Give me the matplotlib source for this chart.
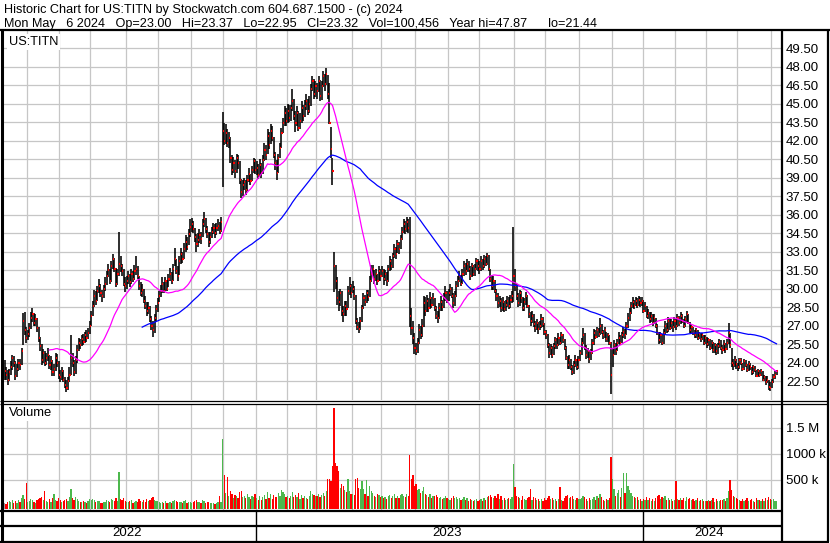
import matplotlib
matplotlib.use('Agg')
import matplotlib.pyplot as plt
import numpy as np
import pandas as pd

plt.rcParams['font.family'] = ['Liberation Sans', 'DejaVu Sans']

# ---------------- data (daily, 2022-05-10 .. 2024-05-06) ----------------
close = [
    23.3, 23.0, 22.6, 23.2, 23.6, 24.4, 24.0, 22.9, 23.5, 24.0, 23.8, 24.9, 27.4, 26.6, 26.0,  # May 22
    26.3, 26.8, 27.6, 27.9, 27.2, 27.5, 26.8, 26.0, 25.3, 24.2, 24.8, 24.0, 24.4, 24.6, 23.8, 24.1, 23.2, 23.5, 24.4, 24.0, 23.0,  # Jun
    22.8, 23.3, 22.6, 22.2, 21.9, 22.5, 23.0, 24.4, 24.0, 23.2, 24.2, 25.0, 25.6, 25.4, 25.9, 25.7, 26.2, 26.0, 26.4, 27.0,  # Jul
    27.8, 28.6, 29.4, 29.0, 29.8, 30.2, 29.6, 29.4, 30.0, 30.4, 31.0, 31.5, 30.6, 31.8, 32.4, 31.6, 30.4, 31.2, 32.0, 31.8, 31.4, 30.4, 30.2,  # Aug
    30.6, 31.0, 30.5, 31.2, 30.8, 31.4, 31.6, 31.0, 30.2, 29.6, 29.9, 29.0, 28.6, 28.2, 28.4, 27.5, 27.0, 26.6, 27.6, 28.3, 28.8,  # Sep
    29.4, 29.8, 30.4, 29.8, 30.6, 30.0, 30.8, 31.2, 30.6, 31.6, 32.4, 31.4, 31.0, 32.2, 32.8, 32.4, 33.2, 33.8, 33.4, 34.4, 35.0,  # Oct
    35.2, 34.8, 34.2, 33.6, 33.9, 34.3, 34.0, 35.2, 35.6, 34.8, 34.4, 33.8, 34.2, 34.6, 34.9, 34.5, 34.9, 35.1, 34.7, 35.4, 42.8,  # Nov
    42.0, 42.6, 41.8, 42.2, 40.6, 39.6, 40.2, 39.5, 40.6, 40.2, 38.8, 37.8, 38.4, 38.6, 38.0, 38.8, 39.3, 38.7, 39.6, 40.3, 39.6,  # Dec
    39.8, 39.2, 40.0, 39.4, 40.4, 41.2, 40.8, 42.4, 41.6, 42.8, 42.2, 40.8, 40.2, 39.4, 40.6, 41.4, 42.6, 43.4, 44.2, 43.6,  # Jan 23
    44.4, 43.8, 44.6, 45.2, 44.0, 43.4, 44.2, 43.0, 43.6, 44.6, 44.0, 44.8, 45.2, 44.4, 45.0, 46.2, 46.8, 45.8, 46.4,  # Feb
    46.0, 46.8, 45.6, 46.4, 47.2, 46.6, 47.4, 45.8, 43.4, 41.3, 39.5, 31.8, 30.6, 29.2, 28.9, 29.6, 28.2, 27.9, 28.6, 28.3, 29.8, 30.2, 29.6,  # Mar
    30.0, 29.4, 27.4, 26.9, 26.7, 27.4, 28.4, 29.2, 28.9, 29.6, 29.3, 30.6, 31.2, 31.6, 30.8, 31.2, 30.6, 31.4, 31.0,  # Apr
    31.4, 30.8, 31.2, 30.6, 31.6, 32.2, 31.8, 32.6, 33.2, 32.8, 33.6, 33.2, 34.0, 34.6, 35.2, 34.8, 35.4, 34.9, 27.8, 26.8, 26.0, 25.2,  # May
    24.9, 25.6, 26.6, 26.2, 27.0, 28.8, 28.2, 29.0, 28.4, 29.2, 28.7, 29.2, 28.4, 27.8, 27.6, 28.4, 28.9, 28.5, 29.2, 29.6, 29.0,  # Jun
    29.6, 30.0, 29.4, 28.8, 29.4, 30.2, 30.6, 31.0, 30.4, 31.2, 31.8, 31.4, 32.0, 31.6, 31.0, 31.8, 31.2, 31.6, 32.2, 31.8,  # Jul
    31.6, 32.2, 31.8, 32.4, 32.0, 32.6, 31.6, 30.8, 30.2, 30.6, 29.8, 29.4, 28.8, 29.0, 28.4, 28.9, 28.3, 28.7, 29.0, 28.6, 29.1, 29.4, 31.0,  # Aug
    30.2, 29.4, 28.8, 29.6, 29.2, 28.4, 28.9, 29.4, 28.6, 27.9, 27.4, 27.8, 27.1, 26.8, 27.2, 26.7, 27.0, 27.5, 27.1, 26.5,  # Sep
    26.2, 25.4, 24.8, 25.2, 24.6, 25.3, 25.8, 25.4, 26.0, 25.6, 26.2, 25.8, 25.2, 24.4, 23.8, 24.2, 23.6, 23.2, 23.8, 24.2, 23.6, 24.2,  # Oct
    24.8, 25.6, 26.2, 25.2, 24.6, 24.9, 24.3, 24.8, 25.6, 26.4, 26.1, 26.6, 26.3, 27.0, 26.5, 26.2, 26.6, 25.9, 26.2, 25.6, 23.0,  # Nov
    24.6, 25.4, 24.9, 25.6, 26.0, 25.6, 26.2, 26.5, 26.2, 27.0, 27.6, 28.0, 28.6, 28.9, 28.6, 29.0, 28.7, 29.1, 28.8, 29.0,  # Dec
    28.2, 28.6, 27.8, 28.0, 27.5, 27.8, 27.2, 27.6, 27.0, 26.4, 25.8, 26.2, 25.6, 26.4, 27.0, 26.6, 27.4, 26.8, 27.2, 26.9, 27.4,  # Jan 24
    27.0, 27.6, 27.2, 27.8, 27.4, 27.0, 27.5, 27.9, 27.2, 26.6, 26.9, 26.4, 26.2, 26.6, 26.0, 26.3, 25.9, 26.2, 25.6, 26.0,  # Feb
    25.5, 25.8, 25.2, 25.6, 25.0, 25.4, 24.9, 25.3, 25.7, 25.2, 25.0, 25.5, 25.1, 25.6, 26.4, 25.4, 24.0, 23.8, 24.2, 23.9,  # Mar
    23.6, 24.2, 24.0, 23.5, 24.1, 23.8, 23.4, 23.9, 23.6, 23.2, 23.6, 23.4, 22.9, 23.3, 23.0, 23.3, 22.6, 22.8, 22.4, 22.6, 22.0, 21.9,  # Apr
    22.4, 22.8, 23.0, 23.32,  # May 24
]

high = [
    24.2, 23.6, 23.4, 23.5, 24.1, 24.6, 24.5, 24.1, 23.9, 24.3, 24.3, 25.2, 28.0, 28.1, 26.9,
    26.6, 27.2, 28.1, 28.4, 28.0, 27.9, 27.6, 26.9, 26.1, 25.5, 25.1, 24.9, 24.8, 25.2, 24.6, 24.5, 24.2, 23.9, 24.8, 24.7, 24.1,
    23.4, 23.6, 23.4, 22.8, 22.6, 22.8, 23.6, 26.2, 24.8, 24.2, 24.5, 25.4, 26.0, 25.9, 26.2, 26.3, 26.5, 26.6, 26.8, 27.4,
    28.2, 29.0, 29.9, 29.8, 30.2, 30.8, 30.4, 29.9, 30.3, 30.9, 31.4, 32.0, 31.6, 32.2, 32.8, 32.5, 31.7, 31.6, 34.6, 32.6, 32.0, 31.6, 30.9,
    31.0, 31.4, 31.2, 31.6, 31.4, 31.9, 32.6, 31.8, 31.0, 30.5, 30.4, 30.0, 29.4, 28.9, 28.9, 28.6, 27.8, 27.4, 27.9, 28.7, 29.2,
    29.8, 30.3, 30.9, 30.5, 30.9, 30.7, 31.2, 31.7, 31.3, 32.0, 33.3, 32.4, 31.8, 32.6, 33.3, 33.0, 33.7, 34.3, 34.2, 34.8, 35.6,
    35.7, 35.5, 34.9, 34.4, 34.5, 34.8, 34.6, 35.6, 36.2, 35.7, 35.1, 34.6, 34.6, 35.0, 35.3, 35.2, 35.3, 35.6, 35.4, 35.8, 44.3,
    43.4, 43.3, 42.9, 42.7, 42.3, 40.8, 40.7, 40.4, 40.9, 40.8, 40.3, 38.9, 38.8, 39.0, 38.8, 39.2, 39.8, 39.3, 39.9, 40.6, 40.5,
    40.3, 40.1, 40.5, 40.2, 40.8, 41.8, 41.6, 42.9, 42.7, 43.3, 43.2, 42.3, 41.1, 40.4, 40.9, 41.8, 43.0, 43.8, 44.8, 44.6,
    45.0, 44.9, 44.9, 46.2, 45.4, 44.4, 44.8, 44.4, 44.2, 45.2, 44.9, 45.3, 45.8, 45.4, 45.6, 46.6, 47.2, 47.0, 46.8,
    46.7, 47.2, 46.9, 46.8, 47.6, 47.4, 47.87, 47.3, 46.7, 43.1, 40.6, 33.0, 31.9, 30.9, 29.8, 30.0, 29.8, 28.6, 29.0, 29.0, 30.2, 30.9, 30.4,
    30.6, 30.2, 29.5, 27.6, 27.3, 27.7, 28.7, 29.6, 29.5, 29.9, 29.9, 31.0, 31.9, 31.9, 31.5, 31.6, 31.2, 31.8, 31.6,
    31.8, 31.6, 31.5, 31.3, 31.9, 32.6, 32.4, 32.9, 33.6, 33.4, 33.9, 33.8, 34.3, 35.0, 35.6, 35.5, 35.8, 35.6, 35.8, 28.4, 27.4, 26.4,
    25.6, 26.0, 27.1, 27.0, 27.5, 29.4, 29.3, 29.5, 29.2, 29.7, 29.3, 29.6, 29.2, 28.6, 28.2, 28.8, 29.4, 29.1, 29.6, 30.2, 29.8,
    30.0, 30.4, 30.1, 29.6, 29.8, 30.6, 31.0, 31.4, 31.1, 31.6, 32.2, 32.1, 32.4, 32.2, 31.8, 32.1, 31.9, 32.0, 32.5, 32.4,
    32.2, 32.6, 32.4, 32.7, 32.6, 32.9, 32.7, 31.6, 31.1, 31.0, 30.7, 30.0, 29.6, 29.4, 29.2, 29.3, 29.0, 29.1, 29.4, 29.3, 29.5, 29.8, 35.0,
    31.6, 30.4, 29.6, 29.9, 29.8, 29.3, 29.2, 29.7, 29.5, 28.7, 28.1, 28.2, 27.9, 27.4, 27.5, 27.3, 27.4, 27.9, 27.7, 27.2,
    26.6, 26.3, 25.6, 25.5, 25.3, 25.6, 26.1, 26.0, 26.4, 26.1, 26.5, 26.3, 25.9, 25.3, 24.5, 24.6, 24.3, 23.8, 24.1, 24.6, 24.3, 24.5,
    25.0, 26.0, 26.8, 26.4, 25.4, 25.2, 25.0, 25.1, 25.9, 26.7, 26.6, 26.9, 26.8, 27.6, 27.1, 26.6, 26.9, 26.5, 26.4, 26.2, 25.7,
    25.2, 25.8, 25.6, 25.9, 26.5, 26.2, 26.5, 26.9, 26.7, 27.3, 28.0, 28.4, 28.9, 29.3, 29.1, 29.3, 29.2, 29.4, 29.3, 29.3,
    29.1, 28.9, 28.6, 28.3, 28.1, 28.1, 27.9, 27.9, 27.6, 27.1, 26.5, 26.5, 26.3, 26.7, 27.4, 27.2, 27.7, 27.5, 27.5, 27.4, 27.7,
    27.5, 27.9, 27.8, 28.1, 27.9, 27.5, 27.8, 28.2, 27.9, 27.3, 27.1, 26.9, 26.6, 26.8, 26.6, 26.5, 26.4, 26.4, 26.2, 26.2,
    26.1, 26.0, 25.9, 25.8, 25.7, 25.6, 25.5, 25.6, 25.9, 25.8, 25.4, 25.8, 25.6, 25.9, 27.2, 26.4, 25.2, 24.3, 24.5, 24.3,
    24.0, 24.4, 24.4, 24.0, 24.3, 24.2, 23.9, 24.1, 24.0, 23.6, 23.8, 23.7, 23.4, 23.5, 23.4, 23.5, 23.3, 23.0, 22.9, 22.9, 22.6, 22.4,
    22.7, 23.1, 23.3, 23.37,
]

low = [
    22.6, 22.6, 22.2, 22.5, 23.0, 23.4, 23.6, 22.6, 22.8, 23.3, 23.4, 23.8, 25.4, 26.2, 25.6,
    25.8, 26.1, 26.7, 27.3, 27.0, 27.0, 26.5, 25.7, 24.9, 23.8, 24.0, 23.7, 23.8, 24.1, 23.5, 23.4, 22.9, 22.9, 23.3, 23.6, 22.7,
    22.4, 22.6, 22.4, 21.9, 21.6, 21.8, 22.4, 23.0, 23.6, 22.9, 23.1, 24.0, 24.9, 25.1, 25.3, 25.4, 25.6, 25.7, 25.9, 26.3,
    27.0, 27.8, 28.5, 28.7, 29.0, 29.6, 29.3, 28.9, 29.2, 29.8, 30.3, 30.9, 30.4, 30.5, 31.6, 31.3, 30.1, 30.3, 31.0, 31.3, 31.0, 30.2, 29.7,
    30.0, 30.4, 30.1, 30.4, 30.5, 30.7, 31.1, 30.8, 29.9, 29.4, 29.3, 28.8, 28.3, 27.8, 27.9, 27.3, 26.6, 26.1, 26.4, 27.4, 28.1,
    28.9, 29.3, 29.6, 29.6, 29.8, 29.8, 30.1, 30.6, 30.4, 30.6, 31.8, 31.2, 30.6, 31.1, 32.0, 32.1, 32.4, 33.0, 33.1, 33.5, 34.2,
    34.6, 34.5, 33.8, 33.0, 33.4, 33.7, 33.6, 34.2, 35.0, 34.5, 34.1, 33.4, 33.6, 34.1, 34.4, 34.1, 34.3, 34.7, 34.4, 34.6, 38.2,
    41.6, 41.7, 41.5, 41.4, 40.2, 39.2, 39.4, 39.0, 39.4, 39.7, 38.5, 37.3, 37.5, 38.0, 37.6, 37.9, 38.6, 38.4, 38.7, 39.4, 39.3,
    39.2, 38.9, 39.1, 39.0, 39.3, 40.3, 40.4, 40.9, 41.3, 41.7, 42.0, 40.6, 39.6, 38.8, 39.4, 40.6, 41.4, 42.6, 43.2, 43.2,
    43.4, 43.5, 43.6, 44.4, 43.7, 42.7, 43.2, 42.8, 42.9, 43.4, 43.6, 43.9, 44.5, 44.1, 44.2, 44.8, 46.0, 45.4, 45.5,
    45.4, 45.9, 45.2, 45.3, 46.3, 46.0, 46.5, 45.4, 43.3, 40.6, 38.4, 29.7, 30.0, 28.7, 28.2, 28.6, 27.8, 27.3, 27.8, 27.8, 28.4, 29.5, 29.2,
    29.6, 29.1, 27.1, 26.6, 26.4, 26.6, 27.3, 28.3, 28.6, 28.8, 29.0, 29.3, 30.5, 31.0, 30.4, 30.6, 30.3, 30.6, 30.6,
    30.9, 30.3, 30.6, 30.2, 30.5, 31.4, 31.5, 31.7, 32.5, 32.4, 32.9, 32.8, 33.2, 33.9, 34.5, 34.4, 34.6, 34.5, 26.9, 26.2, 25.5, 24.7,
    24.6, 24.8, 25.5, 25.9, 26.1, 26.9, 27.8, 28.1, 28.1, 28.3, 28.4, 28.6, 28.2, 27.5, 27.2, 27.5, 28.2, 28.2, 28.4, 29.0, 28.8,
    29.0, 29.4, 29.2, 28.4, 28.6, 29.3, 30.1, 30.5, 30.2, 30.4, 31.0, 31.1, 31.3, 31.3, 30.7, 30.9, 31.0, 31.0, 31.5, 31.4,
    31.2, 31.4, 31.5, 31.7, 31.8, 31.9, 31.4, 30.5, 29.9, 29.9, 29.6, 29.0, 28.4, 28.5, 28.1, 28.2, 28.1, 28.2, 28.5, 28.3, 28.4, 28.8, 28.9,
    29.8, 29.1, 28.5, 28.6, 28.8, 28.2, 28.2, 28.7, 28.4, 27.6, 27.0, 27.2, 26.9, 26.5, 26.6, 26.3, 26.6, 26.8, 26.9, 26.2,
    25.9, 25.2, 24.4, 24.6, 24.4, 24.6, 25.1, 25.1, 25.3, 25.4, 25.5, 25.6, 25.0, 24.2, 23.5, 23.5, 23.4, 23.0, 23.1, 23.6, 23.4, 23.5,
    24.1, 24.6, 25.5, 25.0, 24.3, 24.4, 24.0, 24.2, 24.7, 25.4, 25.9, 26.0, 26.1, 26.2, 26.3, 25.9, 26.0, 25.7, 25.7, 25.4, 21.44,
    23.6, 24.6, 24.6, 24.9, 25.5, 25.4, 25.6, 26.0, 25.9, 26.2, 26.8, 27.4, 27.9, 28.4, 28.3, 28.6, 28.4, 28.6, 28.5, 28.6,
    28.0, 28.1, 27.6, 27.5, 27.2, 27.3, 27.0, 27.1, 26.8, 26.2, 25.5, 25.6, 25.4, 25.5, 26.3, 26.4, 26.5, 26.6, 26.7, 26.5, 26.8,
    26.6, 26.9, 27.0, 27.1, 27.2, 26.8, 26.9, 27.3, 27.1, 26.4, 26.4, 26.2, 26.0, 26.0, 25.8, 25.9, 25.7, 25.8, 25.4, 25.5,
    25.2, 25.3, 25.0, 25.1, 24.8, 24.8, 24.6, 24.7, 25.2, 25.0, 24.7, 24.9, 24.8, 25.0, 25.5, 25.2, 23.6, 23.4, 23.6, 23.5,
    23.3, 23.5, 23.8, 23.3, 23.4, 23.6, 23.2, 23.3, 23.4, 23.0, 23.1, 23.2, 22.8, 22.9, 22.8, 22.9, 22.5, 22.5, 22.2, 22.3, 21.8, 21.7,
    21.9, 22.3, 22.7, 22.95,
]

volume_k = [
    60, 45, 80, 95, 70, 110, 55, 90, 65, 120, 85, 150, 210, 130, 440,
    70, 95, 140, 120, 85, 60, 110, 130, 150, 180, 110, 290, 90, 75, 140, 80, 160, 240, 110, 95, 150,
    120, 80, 95, 110, 130, 100, 170, 330, 150, 120, 180, 140, 90, 70, 85, 100, 80, 60, 95, 130,
    110, 140, 120, 70, 90, 100, 60, 55, 75, 85, 110, 95, 80, 130, 120, 90, 150, 100, 650, 140, 110, 160, 90,
    80, 70, 90, 110, 60, 85, 100, 75, 130, 95, 70, 120, 85, 140, 90, 110, 150, 180, 120, 100, 95,
    70, 60, 80, 55, 90, 50, 65, 85, 60, 100, 120, 90, 70, 80, 75, 55, 90, 110, 60, 85, 75,
    60, 70, 90, 110, 80, 75, 55, 120, 100, 65, 70, 85, 50, 60, 55, 45, 60, 70, 190, 75, 1290,
    600, 250, 560, 200, 290, 240, 160, 220, 190, 150, 260, 280, 170, 200, 150, 240, 180, 130, 200, 170, 230,
    150, 120, 200, 110, 180, 220, 130, 260, 150, 230, 140, 220, 180, 170, 250, 200, 300, 260, 240, 180,
    200, 160, 190, 260, 180, 220, 170, 250, 130, 210, 150, 190, 160, 140, 200, 280, 240, 210, 190,
    200, 230, 180, 210, 250, 190, 280, 520, 520, 480, 760, 1880, 830, 770, 670, 350, 420, 380, 300, 260, 520, 280, 240,
    230, 220, 520, 540, 350, 330, 480, 320, 230, 500, 200, 380, 290, 250, 200, 180, 240, 210, 170,
    200, 160, 180, 140, 190, 220, 150, 200, 230, 160, 190, 150, 210, 240, 200, 170, 230, 190, 980, 520, 600, 380,
    420, 300, 330, 250, 280, 360, 240, 210, 180, 230, 160, 200, 190, 210, 170, 150, 180, 130, 160, 200, 150,
    140, 120, 160, 200, 150, 180, 130, 150, 110, 140, 170, 120, 150, 100, 130, 110, 90, 120, 140, 100,
    120, 140, 90, 160, 110, 170, 200, 220, 180, 150, 190, 160, 240, 130, 200, 110, 150, 120, 140, 160, 130, 180, 800,
    370, 200, 180, 150, 120, 190, 130, 110, 160, 180, 330, 120, 170, 150, 110, 140, 100, 130, 90, 160,
    120, 160, 200, 130, 150, 110, 140, 100, 130, 370, 120, 100, 160, 190, 210, 150, 180, 200, 140, 120, 160, 130,
    140, 160, 190, 170, 130, 100, 150, 110, 140, 180, 120, 200, 150, 230, 170, 120, 100, 140, 110, 160, 940,
    520, 330, 200, 250, 300, 180, 340, 640, 250, 640, 380, 300, 250, 200, 170, 150, 180, 120, 140, 100,
    130, 110, 180, 120, 150, 100, 140, 90, 160, 200, 220, 130, 180, 150, 200, 110, 160, 120, 130, 100, 110,
    480, 140, 110, 160, 120, 150, 100, 170, 130, 160, 110, 140, 100, 120, 150, 90, 110, 130, 100, 90,
    100, 120, 90, 110, 150, 80, 130, 100, 90, 120, 110, 140, 100, 160, 280, 500, 300, 200, 180, 150,
    130, 110, 90, 140, 100, 120, 150, 90, 110, 130, 100, 80, 160, 120, 110, 90, 140, 100, 150, 120, 170, 130,
    110, 140, 90, 100,
]

holidays = ['2022-05-30', '2022-06-20', '2022-07-04', '2022-09-05', '2022-11-24', '2022-12-26',
            '2023-01-02', '2023-01-16', '2023-02-20', '2023-04-07', '2023-05-29', '2023-06-19',
            '2023-07-04', '2023-09-04', '2023-11-23', '2023-12-25', '2024-01-01', '2024-01-15',
            '2024-02-19', '2024-03-29']

price_ticks = [22.5, 24.0, 25.5, 27.0, 28.5, 30.0, 31.5, 33.0, 34.5, 36.0, 37.5, 39.0,
               40.5, 42.0, 43.5, 45.0, 46.5, 48.0, 49.5]
vol_ticks = [500, 1000, 1500]
vol_tick_labels = ['500 k', '1000 k', '1.5 M']

header1 = "Historic Chart for US:TITN by Stockwatch.com 604.687.1500 - (c) 2024"
header2 = ("Mon May   6 2024   Op=23.00   Hi=23.37   Lo=22.95   Cl=23.32   Vol=100,456   "
           "Year hi=47.87      lo=21.44")

# ---------------- build ----------------
dates = pd.bdate_range('2022-05-10', '2024-05-06', freq='C', holidays=holidays)
n = len(close)
assert len(dates) == n == len(high) == len(low) == len(volume_k)

idx = np.arange(n)
c = np.array(close)
hi = np.array(high)
lo = np.array(low)
vol = np.array(volume_k, dtype=float)
ma30 = pd.Series(c).rolling(30).mean().values
ma90 = pd.Series(c).rolling(90).mean().values

W, H = 830, 543
fig = plt.figure(figsize=(W / 100, H / 100), dpi=100)
fig.patch.set_facecolor('white')


def ax_px(x0, y0, x1, y1, **kw):
    return fig.add_axes([x0 / W, 1 - y1 / H, (x1 - x0) / W, (y1 - y0) / H], **kw)


XL, XR = 3, 781
spacing = (776.5 - 4.5) / (n - 1)
xlim = (-(4.5 - XL) / spacing, (n - 1) + (XR - 776.5) / spacing)

dser = pd.Series(dates)
month_key = dser.dt.year * 100 + dser.dt.month
month_starts = [i for i in range(1, n) if month_key[i] != month_key[i - 1]]
year_starts = [i for i in month_starts if dates[i].month == 1]

grid_c = '#c6c6c6'
label_fs = 9.5

# ---- price panel
ax = ax_px(XL, 31, XR, 400)
ax.set_xlim(*xlim)
ax.set_ylim(20.96, 50.88)
for s in ax.spines.values():
    s.set_visible(False)
ax.set_xticks([])
ax.yaxis.tick_right()
ax.set_yticks(price_ticks)
ax.set_yticklabels([f"{t:.2f}" for t in price_ticks])
ax.tick_params(axis='y', length=0, pad=3.5, labelsize=label_fs, labelcolor='black')
for t in price_ticks:
    ax.axhline(t, color=grid_c, lw=0.9, zorder=0)
for m in month_starts:
    ax.axvline(m - 0.5, color=grid_c, lw=0.9, zorder=0)

ax.vlines(idx, lo, hi, color='black', lw=1.15, zorder=2)
ax.hlines(c, idx, idx + 0.75, color='red', lw=1.5, zorder=3)
ax.plot(idx, ma90, color='#0000ff', lw=0.9, zorder=4)
ax.plot(idx, ma30, color='#ff00ff', lw=0.9, zorder=4)
ax.text(6 / (XR - XL), 1 - (42 - 31) / 369, 'US:TITN', transform=ax.transAxes,
        fontsize=9.2, va='center', ha='left', color='black', zorder=6,
        bbox=dict(facecolor='white', edgecolor='none', pad=1.2))

# ---- volume panel
axv = ax_px(XL, 404, XR, 510)
axv.set_xlim(*xlim)
vmax = (506 - 404) / 26 * 500
vmin = -(510 - 506) / 26 * 500
axv.set_ylim(vmin, vmax)
for s in axv.spines.values():
    s.set_visible(False)
axv.set_xticks([])
axv.yaxis.tick_right()
axv.set_yticks(vol_ticks)
axv.set_yticklabels(vol_tick_labels)
axv.tick_params(axis='y', length=0, pad=3.5, labelsize=label_fs, labelcolor='black')
for t in vol_ticks:
    axv.axhline(t, color=grid_c, lw=0.9, zorder=0)
for m in month_starts:
    axv.axvline(m - 0.5, color=grid_c, lw=0.9, zorder=0)
prev = np.concatenate([[c[0]], c[:-1]])
colors = np.where(c > prev, '#4cb84c', np.where(c < prev, '#ff0000', '#a0a0a0'))
base = vmin * 0.75
axv.bar(idx, vol - base, bottom=base, width=0.82, color=colors, lw=0, zorder=2)
axv.text(6 / (XR - XL), 1 - (413 - 404) / 106, 'Volume', transform=axv.transAxes,
         fontsize=9.4, va='center', ha='left', color='black', zorder=6,
         bbox=dict(facecolor='white', edgecolor='none', pad=1.2))

# ---- date strip
axd = ax_px(XL, 511, XR, 541)
axd.set_xlim(*xlim)
axd.set_ylim(0, 1)
axd.axis('off')
bounds = [xlim[0]] + [y - 0.5 for y in year_starts] + [xlim[1]]
years = [dates[0].year] + [dates[y].year for y in year_starts]
for yb in year_starts:
    axd.plot([yb - 0.5, yb - 0.5], [0, 1], color='black', lw=1.0)
for k, yr in enumerate(years):
    axd.text((bounds[k] + bounds[k + 1]) / 2 - 1.5, 0.25, str(yr), ha='center', va='center',
             fontsize=9.5, color='black')

# ---- overlay frame
ov = fig.add_axes([0, 0, 1, 1], zorder=10)
ov.set_xlim(0, W)
ov.set_ylim(H, 0)
ov.axis('off')
ov.patch.set_alpha(0)
k = dict(color='black', solid_capstyle='butt')
ov.plot([0, W], [30, 30], lw=1.6, **k)
ov.plot([1.5, 1.5], [30, 542], lw=2.2, **k)
ov.plot([781.5, 781.5], [30, 542], lw=1.6, **k)
ov.plot([828, 828], [30, 542], lw=1.6, **k)
ov.plot([0, 829], [541.5, 541.5], lw=1.6, **k)
ov.plot([0, 828], [400.5, 400.5], lw=0.9, **k)
ov.plot([0, 828], [403.5, 403.5], lw=0.9, **k)
ov.plot([0, 782], [511, 511], lw=1.6, **k)
ov.plot([0, 782], [526, 526], lw=1.6, **k)

fig.text(4 / W, 1 - 12.5 / H, header1, fontsize=9.1, va='baseline', ha='left', color='black')
fig.text(4 / W, 1 - 26.5 / H, header2, fontsize=9.1, va='baseline', ha='left', color='black')

fig.savefig('out.png', dpi=100, facecolor='white')
